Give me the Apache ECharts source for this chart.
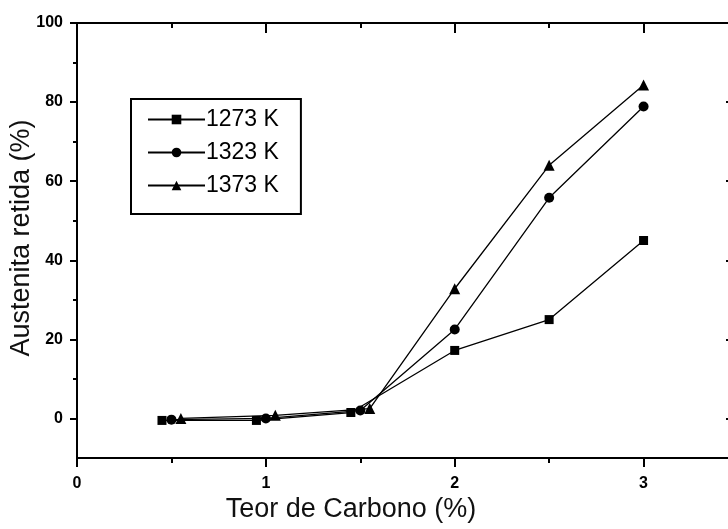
<!DOCTYPE html>
<html>
<head>
<meta charset="utf-8">
<script src="https://cdn.jsdelivr.net/npm/echarts@6/dist/echarts.min.js"></script>
<style>html,body{margin:0;padding:0;background:#fff}#c{width:728px;height:529px}</style>
</head>
<body>
<div id="c"></div>
<script>
const seriesNames = ['1273 K', '1323 K', '1373 K'];
const x1273 = [0.45, 0.95, 1.45, 2, 2.5, 3];
const y1273 = [-0.5, -0.5, 1.5, 17.2, 25, 45];
const x1323 = [0.5, 1.0, 1.5, 2, 2.5, 3];
const y1323 = [-0.3, 0, 2, 22.5, 55.8, 78.9];
const x1373 = [0.55, 1.05, 1.55, 2, 2.5, 3];
const y1373 = [0, 0.8, 2.5, 32.8, 64, 84.3];
const xMajorTicks = [0, 1, 2, 3];
const xMinorTicks = [0.5, 1.5, 2.5];
const yMajorTicks = [0, 20, 40, 60, 80, 100];
const yMinorTicks = [10, 30, 50, 70, 90];
const xTitle = 'Teor de Carbono (%)';
const yTitle = 'Austenita retida (%)';

const pairs = (xs, ys) => xs.map((x, i) => [x, ys[i]]);
const FONT = '"Liberation Sans", Arial, sans-serif';

function xAx(pos, ticks, len, inside, showLine, labels) {
  return {
    type: 'value', position: pos, min: 0, max: 3.5,
    axisLine: { show: showLine, onZero: false, lineStyle: { color: '#000', width: 2 } },
    axisTick: { show: true, customValues: ticks, inside: inside, length: len, lineStyle: { color: '#000', width: 2 } },
    axisLabel: labels ? { show: true, customValues: ticks, margin: 18, color: '#000', fontSize: 16, fontWeight: 'bold', fontFamily: FONT } : { show: false },
    splitLine: { show: false }
  };
}
function yAx(pos, ticks, len, inside, showLine, labels) {
  return {
    type: 'value', position: pos, min: -10, max: 100,
    axisLine: { show: showLine, onZero: false, lineStyle: { color: '#000', width: 2 } },
    axisTick: { show: true, customValues: ticks, inside: inside, length: len, lineStyle: { color: '#000', width: 2 } },
    axisLabel: labels ? { show: true, customValues: ticks, margin: 14, color: '#000', fontSize: 16, fontWeight: 'bold', fontFamily: FONT } : { show: false },
    splitLine: { show: false }
  };
}

const chart = echarts.init(document.getElementById('c'), null, { renderer: 'canvas' });
const lineStyle = { color: '#000', width: 1.3 };
chart.setOption({
  animation: false,
  backgroundColor: '#fff',
  grid: { left: 77, top: 23, width: 661, height: 435, containLabel: false, outerBoundsMode: 'none' },
  xAxis: [
    xAx('bottom', xMajorTicks, 9, false, true, true),
    xAx('bottom', xMinorTicks, 5, false, false, false),
    xAx('top', xMajorTicks, 10, true, true, false),
    xAx('top', xMinorTicks, 5, true, false, false)
  ],
  yAxis: [
    yAx('left', yMajorTicks, 7, false, true, true),
    yAx('left', yMinorTicks, 4, false, false, false),
    yAx('right', yMajorTicks, 12, true, true, false),
    yAx('right', yMinorTicks, 5, true, false, false)
  ],
  legend: {
    orient: 'vertical', left: 131, top: 99,
    data: seriesNames,
    itemWidth: 57, itemHeight: 12, itemGap: 10,
    padding: [9, 22, 17, 16],
    borderColor: '#000', borderWidth: 2, borderRadius: 0,
    textStyle: { color: '#000', fontSize: 23, fontFamily: FONT, padding: [0, 0, 0, -4] }
  },
  graphic: [
    { type: 'text', x: 351, y: 510, style: { text: xTitle, font: '27px ' + FONT, fill: '#111', align: 'center', verticalAlign: 'middle' } },
    { type: 'text', rotation: Math.PI / 2, x: 22, y: 238, style: { text: yTitle, font: '27px ' + FONT, fill: '#111', align: 'center', verticalAlign: 'middle' } }
  ],
  series: [
    { name: seriesNames[0], type: 'line', data: pairs(x1273, y1273), symbol: 'rect', symbolSize: 9, lineStyle: lineStyle, itemStyle: { color: '#000' } },
    { name: seriesNames[1], type: 'line', data: pairs(x1323, y1323), symbol: 'circle', symbolSize: 10, lineStyle: lineStyle, itemStyle: { color: '#000' } },
    { name: seriesNames[2], type: 'line', data: pairs(x1373, y1373), symbol: 'triangle', symbolSize: 11, lineStyle: lineStyle, itemStyle: { color: '#000' } }
  ]
});
</script>
</body>
</html>
